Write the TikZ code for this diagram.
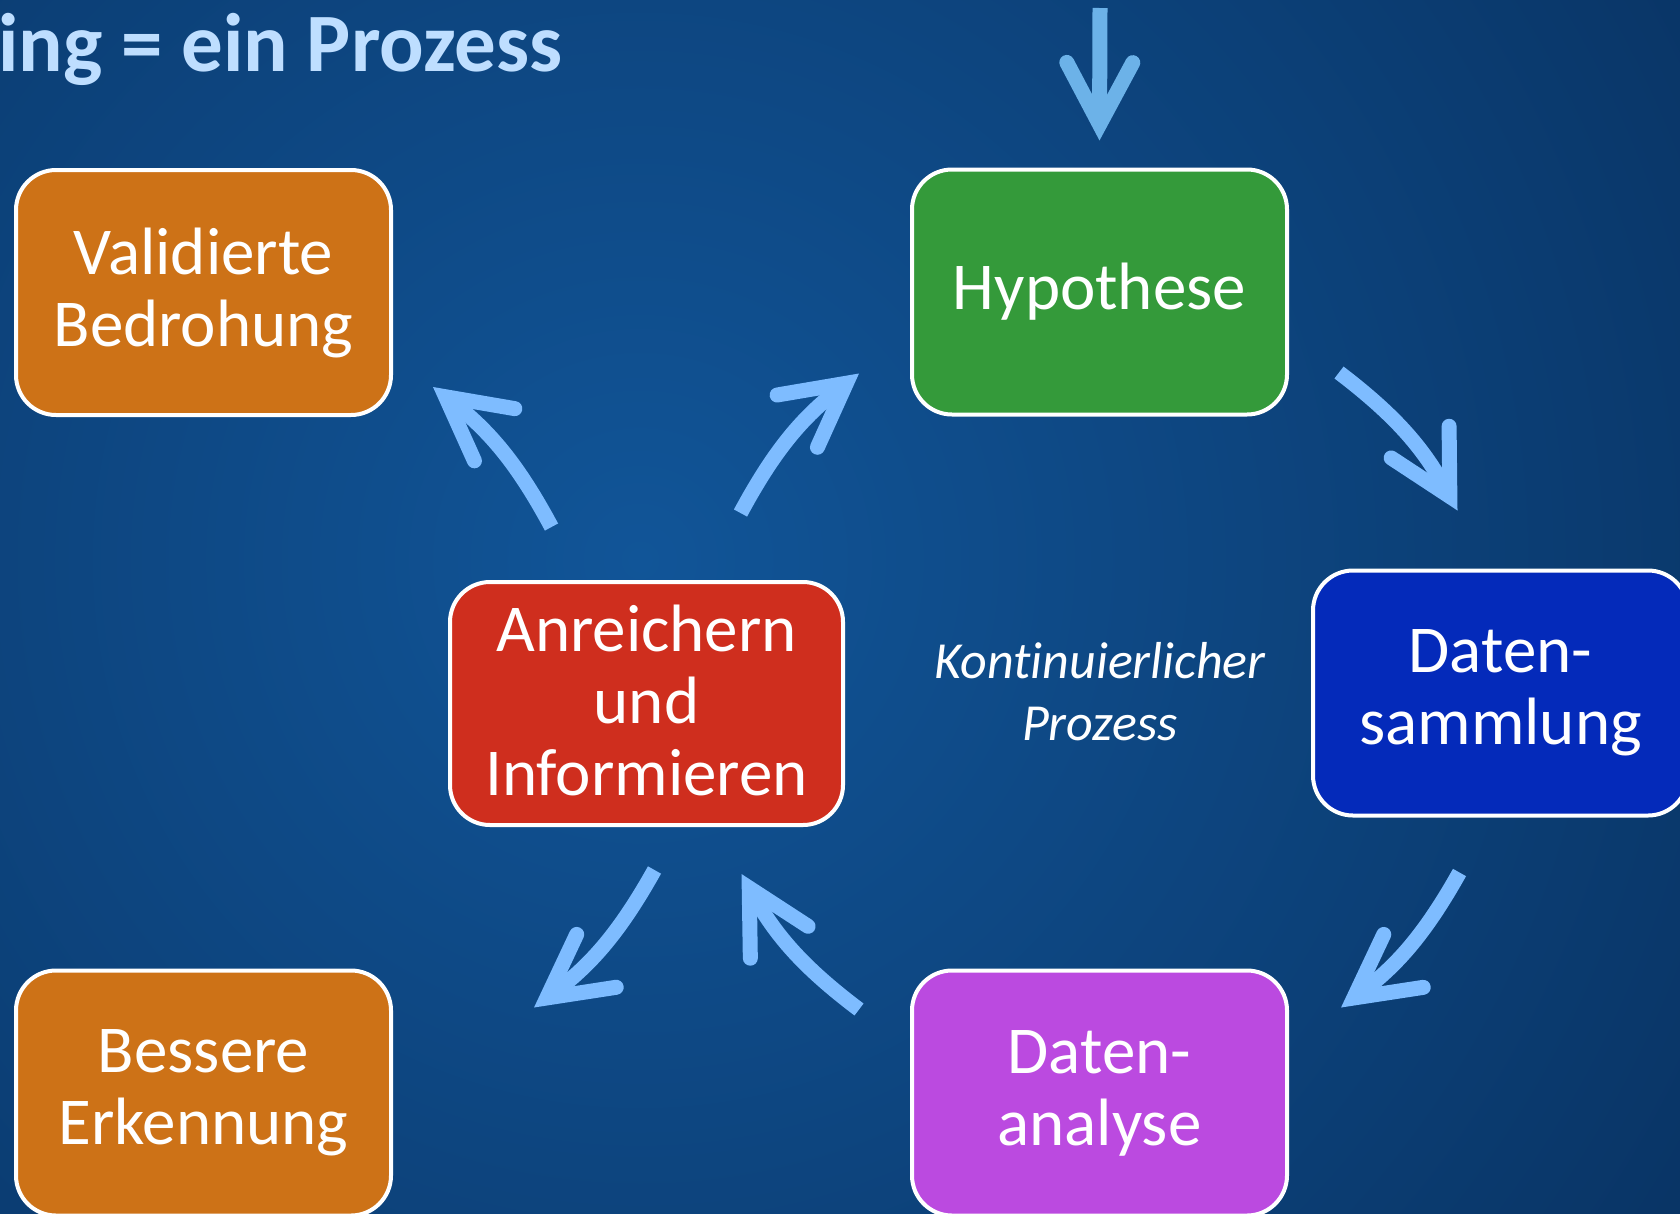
\documentclass[tikz,border=0pt]{standalone}
\usepackage{fontspec}
\setmainfont{Carlito}[Ligatures=NoCommon]
\usepackage{tikz}
\usetikzlibrary{arrows.meta}
\definecolor{huntorange}{RGB}{205,114,23}
\definecolor{huntgreen}{RGB}{52,154,58}
\definecolor{huntblue}{RGB}{4,42,186}
\definecolor{huntred}{RGB}{207,46,30}
\definecolor{huntpurple}{RGB}{187,74,224}
\definecolor{bginner}{RGB}{17,85,152}
\definecolor{bgouter}{RGB}{5,36,76}
\definecolor{arrowlight}{RGB}{126,188,255}
\definecolor{arrowtop}{RGB}{108,178,232}
\definecolor{titleblue}{RGB}{190,222,255}

\begin{document}
\begin{tikzpicture}[x=1pt, y=-1pt,
    stepbox/.style={draw=white, line width=4pt, rounded corners=40pt, inner sep=0pt,
      minimum width=375pt, minimum height=245pt, align=center, text=white,
      font=\fontsize{67}{72}\selectfont},
    cyc/.style={draw=arrowlight, line width=15pt,
      -{Straight Barb[length=62pt, width=66pt, line join=miter, line cap=round]}}]

        % Background
        \useasboundingbox (0,0) rectangle (1680,1213);
        \clip (0,0) rectangle (1680,1213);
        \fill[bgouter] (0,0) rectangle (1680,1213);
        \shade[inner color=bginner, outer color=bgouter] (640,560) circle (1850);

        % Title
        \node[anchor=base west, inner sep=0pt, text=titleblue,
          font=\fontsize{83}{93}\selectfont\bfseries] (title) at (-2,71) {ing = ein Prozess};

        % Steps
        \node[stepbox, fill=huntorange] (valid) at (203.5,292.5) {Validierte\\Bedrohung};
        \node[stepbox, fill=huntgreen] (hyp) at (1099.5,292) {Hypothese};
        \node[stepbox, fill=huntblue] (samm) at (1500.5,693) {Daten-\\sammlung};
        \node[stepbox, fill=huntred, minimum width=393pt, minimum height=243pt] (anr) at (646.5,703.5) {Anreichern\\und\\Informieren\vspace{6pt}};
        \node[stepbox, fill=huntpurple] (anal) at (1099.5,1093) {Daten-\\analyse};
        \node[stepbox, fill=huntorange] (bess) at (203.5,1093) {Bessere\\Erkennung};

        % Cycle label
        \node[text=white, align=center, font=\fontsize{52}{62}\selectfont\itshape] (cont) at (1100,692) {Kontinuierlicher\\Prozess};

        % Arrows
        \coordinate (entry) at (1100,8);
        \draw[cyc, draw=arrowtop] (entry) -- ([yshift=27pt]hyp.north);
        \draw[cyc] ([xshift=50pt,yshift=44pt]hyp.south east) to[bend left=12] ([xshift=-43pt,yshift=58pt]samm.north);
        \draw[cyc] ([xshift=-41pt,yshift=-55pt]samm.south) to[bend left=12] ([xshift=52pt,yshift=-39pt]anal.north east);
        \draw[cyc] ([xshift=-51pt,yshift=-41pt]anal.north west) to[bend left=12] ([xshift=95pt,yshift=-47pt]anr.south);
        \draw[cyc] ([xshift=8pt,yshift=-43pt]anr.south) to[bend left=12] ([xshift=141pt,yshift=-39pt]bess.north east);
        \draw[cyc] ([xshift=-95pt,yshift=53pt]anr.north) to[bend right=12] ([xshift=40pt,yshift=30pt]valid.south east);
        \draw[cyc] ([xshift=94pt,yshift=67pt]anr.north) to[bend left=12] ([xshift=-51pt,yshift=43pt]hyp.south west);
\end{tikzpicture}
\end{document}
